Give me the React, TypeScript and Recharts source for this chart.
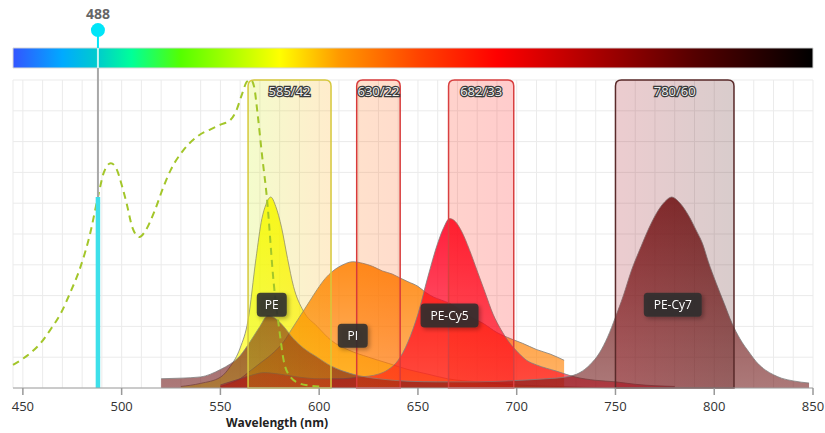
import { ComposedChart, Area, Line, XAxis, YAxis, CartesianGrid, ReferenceArea, ReferenceLine, ReferenceDot } from 'recharts';

// PE excitation (dashed)
const EX_PE_NM = [445, 450, 455, 459, 464, 469, 474, 479, 484, 488, 491, 494.5, 497.5, 500, 502.5, 505.5, 509, 512, 517, 521, 525, 531, 539, 545, 550, 555, 558, 561, 563.5, 565.5, 567, 569, 571, 573.5, 577, 580, 582, 585, 590, 595, 600];
const EX_PE_VAL = [7.5, 9.5, 12, 14.6, 19, 24, 31, 39, 50, 62, 70, 73, 71, 66, 60, 52, 49, 51, 58, 65, 71, 77, 82, 84, 85.5, 87, 90, 95.5, 99.5, 100, 98, 88, 76, 62, 34, 18, 9, 4, 1.5, 0.8, 0.5];

// emission spectra
const PE_NM = [530, 540, 550, 555, 560, 564, 568, 571, 573, 575.5, 578, 581, 584, 587, 592, 599, 606, 615, 625, 635, 645, 655, 665, 680, 700, 720, 750];
const PE_VAL = [0.5, 1.5, 3.5, 7, 13, 22, 42, 55, 59.5, 62, 59, 52, 42, 33, 25, 20, 15.5, 12.3, 10, 8, 6, 4.5, 3, 2, 1, 0.5, 0];

const PI_NM = [550, 555, 560, 564, 570, 576, 582, 586, 590, 595, 599, 603, 607, 612, 617, 622, 627, 632, 637, 641, 645, 650, 654, 658, 662, 666, 671, 677, 683, 690, 697, 703, 710, 717, 724];
const PI_VAL = [0.5, 1.5, 3, 5, 8, 11, 15, 19, 23, 28, 32, 35.5, 38, 40, 41, 40.5, 39.5, 38, 37, 35.7, 34.5, 33, 31, 29.5, 28.5, 27.5, 25.5, 23, 21, 18, 16, 14.5, 12.5, 11, 9];

const CY5_NM = [550, 560, 566, 572, 580, 590, 600, 610, 620, 630, 635, 640, 645, 650, 655, 660, 663, 666, 669, 672, 676, 680, 684, 688, 692, 696, 700, 705, 710, 720, 730, 740, 750, 760, 780];
const CY5_VAL = [1, 3, 4.2, 5, 4.5, 3.5, 3, 3, 3.5, 4.5, 6, 9, 15, 24, 36, 47, 52, 55, 54, 51, 45, 38, 31, 24, 19, 15, 12, 9, 7.5, 5.5, 3.5, 2.5, 2, 1.2, 0.5];

const CY7_NM = [520, 530, 540, 545, 550, 555, 560, 565, 570, 574, 578, 582, 587, 592, 599, 605, 612, 620, 630, 645, 660, 680, 695, 705, 715, 725, 732, 737, 742, 746, 750, 754, 758, 763, 767, 771, 775, 778.5, 782, 787, 791, 794, 797, 801, 805, 809, 813, 818, 822, 826, 830, 834, 840, 848];
const CY7_VAL = [3, 3.2, 3.6, 4.5, 6, 7.8, 10.5, 15, 20, 23.5, 22.5, 20, 16, 13, 10, 7.5, 5.5, 4, 3, 2.2, 2, 2, 2.3, 2.6, 3, 3.6, 5, 7.5, 11.5, 16.5, 23, 30, 38, 46, 52, 57, 60.5, 62, 60.5, 56, 51, 47, 41, 34, 27.5, 21, 16, 11.3, 8, 5.8, 4.3, 3.2, 2.3, 1.6];

const DYES = ['PE', 'PI', 'PE-Cy5', 'PE-Cy7'];
const DYE_COLORS = ['#ffff00', '#ff8000', '#ff0020', '#701818'];
const DYE_PEAK_NM = [576, 617, 666, 779];
const DYE_LABEL_Y = [27, 17, 23.5, 27];

const FILTERS = ['585/42', '630/22', '682/33', '780/60'];
const FILTER_LO = [564, 619, 665.5, 750];
const FILTER_HI = [606, 641, 698.5, 810];
const FILTER_BORDER = ['#d6c83c', '#d83a3a', '#d84040', '#5a2a2a'];
const FILTER_FROM = ['#c8f000', '#ff6a00', '#ff2000', '#a00010'];
const FILTER_TO = ['#ffa000', '#ff5000', '#ff0000', '#400000'];

const LASER_NM = 488;
const LASER_EFF = 62;

const SPECTRUM_NM = [445, 470, 488, 505, 530, 580, 610, 650, 690, 740, 790, 850];
const SPECTRUM_COLOR = ['#3355ff', '#00aaff', '#00cccc', '#00ff99', '#55ff00', '#ffff00', '#ff9900', '#ff4400', '#ff0000', '#aa0000', '#550000', '#000000'];

const X_TICKS = Array.from({ length: 41 }, (_, i) => 450 + i * 10);
const Y_TICKS = [0, 10, 20, 30, 40, 50, 60, 70, 80, 90, 100];

const FONT = '"Open Sans", "Noto Sans", sans-serif';

const pts = (nm: number[], v: number[]) => nm.map((x, i) => ({ nm: x, v: v[i] }));
const SERIES = [pts(PE_NM, PE_VAL), pts(PI_NM, PI_VAL), pts(CY5_NM, CY5_VAL), pts(CY7_NM, CY7_VAL)];

const AxisTick = ({ x, y, payload }: any) => {
  if (payload.value % 50 !== 0) return <g />;
  return (
    <g>
      <line x1={x} x2={x} y1={y} y2={y + 7} stroke="#999" strokeWidth={1.5} />
      <text x={x} y={y + 23} textAnchor="middle" fontSize={13} fill="#333" fontFamily={FONT}>
        {payload.value}
      </text>
    </g>
  );
};

const bandShape = (i: number) => (p: any) => {
  const { x, y, width, height } = p;
  const r = 6;
  const d = `M${x},${y + height} L${x},${y + r} Q${x},${y} ${x + r},${y} L${x + width - r},${y} Q${x + width},${y} ${x + width},${y + r} L${x + width},${y + height} Z`;
  return <path d={d} fill={`url(#band${i})`} stroke={FILTER_BORDER[i]} strokeWidth={1.5} />;
};

const bandLabel = (name: string) => ({ viewBox }: any) => (
  <text
    x={viewBox.x + viewBox.width / 2}
    y={viewBox.y + 16}
    textAnchor="middle"
    fontSize={13}
    fontFamily={FONT}
    fill="#eeeeee"
    stroke="#3a3a3a"
    strokeWidth={2.5}
    paintOrder="stroke"
  >
    {name}
  </text>
);

const dyeLabel = (name: string) => (p: any) => {
  const w = name.length * 7 + 16;
  return (
    <g filter="url(#shadow)">
      <rect x={p.cx - w / 2} y={p.cy - 12} width={w} height={24} rx={4} fill="#2e2e2e" fillOpacity={0.88} />
      <text x={p.cx} y={p.cy + 4.5} textAnchor="middle" fontSize={12} fill="#ffffff" fontFamily={FONT}>
        {name}
      </text>
    </g>
  );
};

const laserDot = (p: any) => (
  <g>
    <circle cx={p.cx} cy={p.cy} r={7} fill="#00e5f8" />
    <text x={p.cx} y={p.cy - 11} textAnchor="middle" fontSize={14} fontWeight="bold" fill="#666" fontFamily={FONT}>
      {LASER_NM}
    </text>
  </g>
);

export default function App() {
  return (
    <div style={{ position: 'fixed', left: 0, top: 0, width: 825, height: 433, background: '#fff' }}>
      <ComposedChart width={825} height={433} margin={{ top: 80, right: 12, left: 13, bottom: 15 }} style={{ fontFamily: FONT }}>
        <defs>
          <linearGradient id="spectrum" x1="0" y1="0" x2="1" y2="0">
            {SPECTRUM_NM.map((nm, i) => (
              <stop key={nm} offset={(nm - 445) / 405} stopColor={SPECTRUM_COLOR[i]} />
            ))}
          </linearGradient>
          {FILTERS.map((f, i) => (
            <linearGradient key={f} id={`band${i}`} x1="0" y1="0" x2="1" y2="0">
              <stop offset="0" stopColor={FILTER_FROM[i]} stopOpacity={0.2} />
              <stop offset="1" stopColor={FILTER_TO[i]} stopOpacity={0.2} />
            </linearGradient>
          ))}
          {DYES.map((d, i) => (
            <linearGradient key={d} id={`dye${i}`} x1="0" y1="0" x2="0" y2="1">
              <stop offset="0" stopColor={DYE_COLORS[i]} stopOpacity={0.88} />
              <stop offset="1" stopColor={DYE_COLORS[i]} stopOpacity={0.58} />
            </linearGradient>
          ))}
          <filter id="shadow" x="-30%" y="-30%" width="160%" height="170%">
            <feDropShadow dx="2" dy="2" stdDeviation="2" floodColor="#000" floodOpacity="0.35" />
          </filter>
        </defs>
        <CartesianGrid stroke="#ebebeb" />
        <XAxis
          dataKey="nm"
          type="number"
          domain={[445, 850]}
          ticks={X_TICKS}
          interval={0}
          tickSize={0}
          tickMargin={0}
          tickLine={false}
          tick={<AxisTick />}
          stroke="#a0a0a0"
          height={30}
          allowDuplicatedCategory={false}
          label={{
            content: ({ viewBox }: any) => (
              <text x={viewBox.x + viewBox.width * 0.33} y={viewBox.y + 39} textAnchor="middle" fontSize={12} fontWeight="bold" fill="#222" fontFamily={FONT}>
                Wavelength (nm)
              </text>
            ),
          }}
        />
        <YAxis type="number" domain={[0, 100]} ticks={Y_TICKS} hide />

        {SERIES.map((data, i) => (
          <Area
            key={DYES[i]}
            data={data}
            dataKey="v"
            type="monotone"
            fill={`url(#dye${i})`}
            fillOpacity={1}
            stroke="#808080"
            strokeOpacity={0.8}
            strokeWidth={1}
            isAnimationActive={false}
          />
        ))}
        <Line
          data={pts(EX_PE_NM, EX_PE_VAL)}
          dataKey="v"
          type="monotone"
          stroke="#a3c62a"
          strokeWidth={2}
          strokeDasharray="7 5"
          dot={false}
          isAnimationActive={false}
        />

        {FILTERS.map((f, i) => (
          <ReferenceArea
            key={f}
            x1={FILTER_LO[i]}
            x2={FILTER_HI[i]}
            y1={0}
            y2={100}
            shape={bandShape(i)}
            label={{ content: bandLabel(f) }}
            ifOverflow="visible"
          />
        ))}

        {DYES.map((d, i) => (
          <ReferenceDot key={d} x={DYE_PEAK_NM[i]} y={DYE_LABEL_Y[i]} shape={dyeLabel(d)} ifOverflow="visible" />
        ))}

        <ReferenceArea x1={445} x2={850} y1={103.9} y2={110.4} fill="url(#spectrum)" fillOpacity={1} stroke="#d8d8d8" ifOverflow="visible" />
        <ReferenceLine segment={[{ x: LASER_NM, y: 62 }, { x: LASER_NM, y: 103.9 }]} stroke="#a8a8a8" strokeWidth={2} ifOverflow="visible" />
        <ReferenceLine segment={[{ x: LASER_NM, y: 103.9 }, { x: LASER_NM, y: 110.4 }]} stroke="#c8f4f4" strokeWidth={2} ifOverflow="visible" />
        <ReferenceLine segment={[{ x: LASER_NM, y: 110.4 }, { x: LASER_NM, y: 116.2 }]} stroke="#00e5f8" strokeWidth={2} ifOverflow="visible" />
        <ReferenceLine segment={[{ x: LASER_NM, y: 0 }, { x: LASER_NM, y: LASER_EFF }]} stroke="#3ee0ea" strokeWidth={4.5} ifOverflow="visible" />
        <ReferenceDot x={LASER_NM} y={116.2} shape={laserDot} ifOverflow="visible" />
      </ComposedChart>
    </div>
  );
}
